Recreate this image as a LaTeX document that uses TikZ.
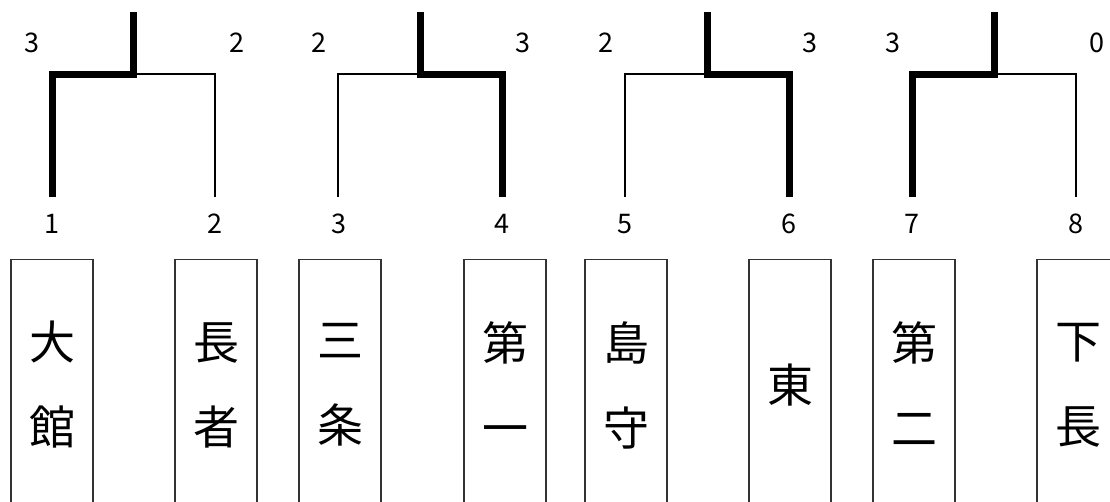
\documentclass[tikz,border=0pt]{standalone}
\usepackage{fontspec}
\setmainfont{Noto Sans CJK JP}
\begin{document}
\begin{tikzpicture}[x=1pt, y=-1pt,
    team/.style={draw=black!80, line width=1.2pt, minimum width=82pt, minimum height=262pt,
      anchor=north, inner sep=0pt, align=center, text depth=15pt, font=\fontsize{46}{85}\selectfont},
    num/.style={font=\fontsize{27}{27}\selectfont, inner sep=0pt},
    win/.style={line width=7pt},
    lose/.style={line width=2.6pt}]
    \useasboundingbox (0,0) rectangle (1110,501);
    \clip (0,0) rectangle (1110,501);
    % Teams
    \node[team] (t1) at (52,259) {大\\館};
    \node[team] (t2) at (216,259) {長\\者};
    \node[team] (t3) at (340,259) {三\\条};
    \node[team] (t4) at (505,259) {第\\一};
    \node[team] (t5) at (626,259) {島\\守};
    \node[team] (t6) at (790,259) {東};
    \node[team] (t7) at (914,259) {第\\二};
    \node[team] (t8) at (1078,259) {下\\長};
    % Seeds
    \node[num] (n1) at (52,224) {1};
    \node[num] (n2) at (215,224) {2};
    \node[num] (n3) at (339,224) {3};
    \node[num] (n4) at (502,224) {4};
    \node[num] (n5) at (625,224) {5};
    \node[num] (n6) at (789,224) {6};
    \node[num] (n7) at (912,224) {7};
    \node[num] (n8) at (1076,224) {8};
    % Scores
    \node[num] (s1) at (32,43) {3};
    \node[num] (s2) at (237,43) {2};
    \node[num] (s3) at (319,43) {2};
    \node[num] (s4) at (523,43) {3};
    \node[num] (s5) at (606,43) {2};
    \node[num] (s6) at (810,43) {3};
    \node[num] (s7) at (893,43) {3};
    \node[num] (s8) at (1097,43) {0};
    % Leaf ends and joins
    \coordinate (b1) at (52,197);
    \coordinate (b2) at (215,197);
    \coordinate (b3) at (338,197);
    \coordinate (b4) at (502,197);
    \coordinate (b5) at (625,197);
    \coordinate (b6) at (789,197);
    \coordinate (b7) at (912,197);
    \coordinate (b8) at (1076,197);
    \coordinate (m1) at (133,74);
    \coordinate (m2) at (420,74);
    \coordinate (m3) at (707,74);
    \coordinate (m4) at (994,74);
    \coordinate (top1) at (133,12);
    \coordinate (top2) at (420,12);
    \coordinate (top3) at (707,12);
    \coordinate (top4) at (994,12);
    % Match 1: 1 wins
    \draw[lose] (b2) |- (m1);
    \draw[win] (b1) |- (m1) -- (top1);
    % Match 2: 4 wins
    \draw[lose] (b3) |- (m2);
    \draw[win] (b4) |- (m2) -- (top2);
    % Match 3: 6 wins
    \draw[lose] (b5) |- (m3);
    \draw[win] (b6) |- (m3) -- (top3);
    % Match 4: 7 wins
    \draw[lose] (b8) |- (m4);
    \draw[win] (b7) |- (m4) -- (top4);
\end{tikzpicture}
\end{document}
